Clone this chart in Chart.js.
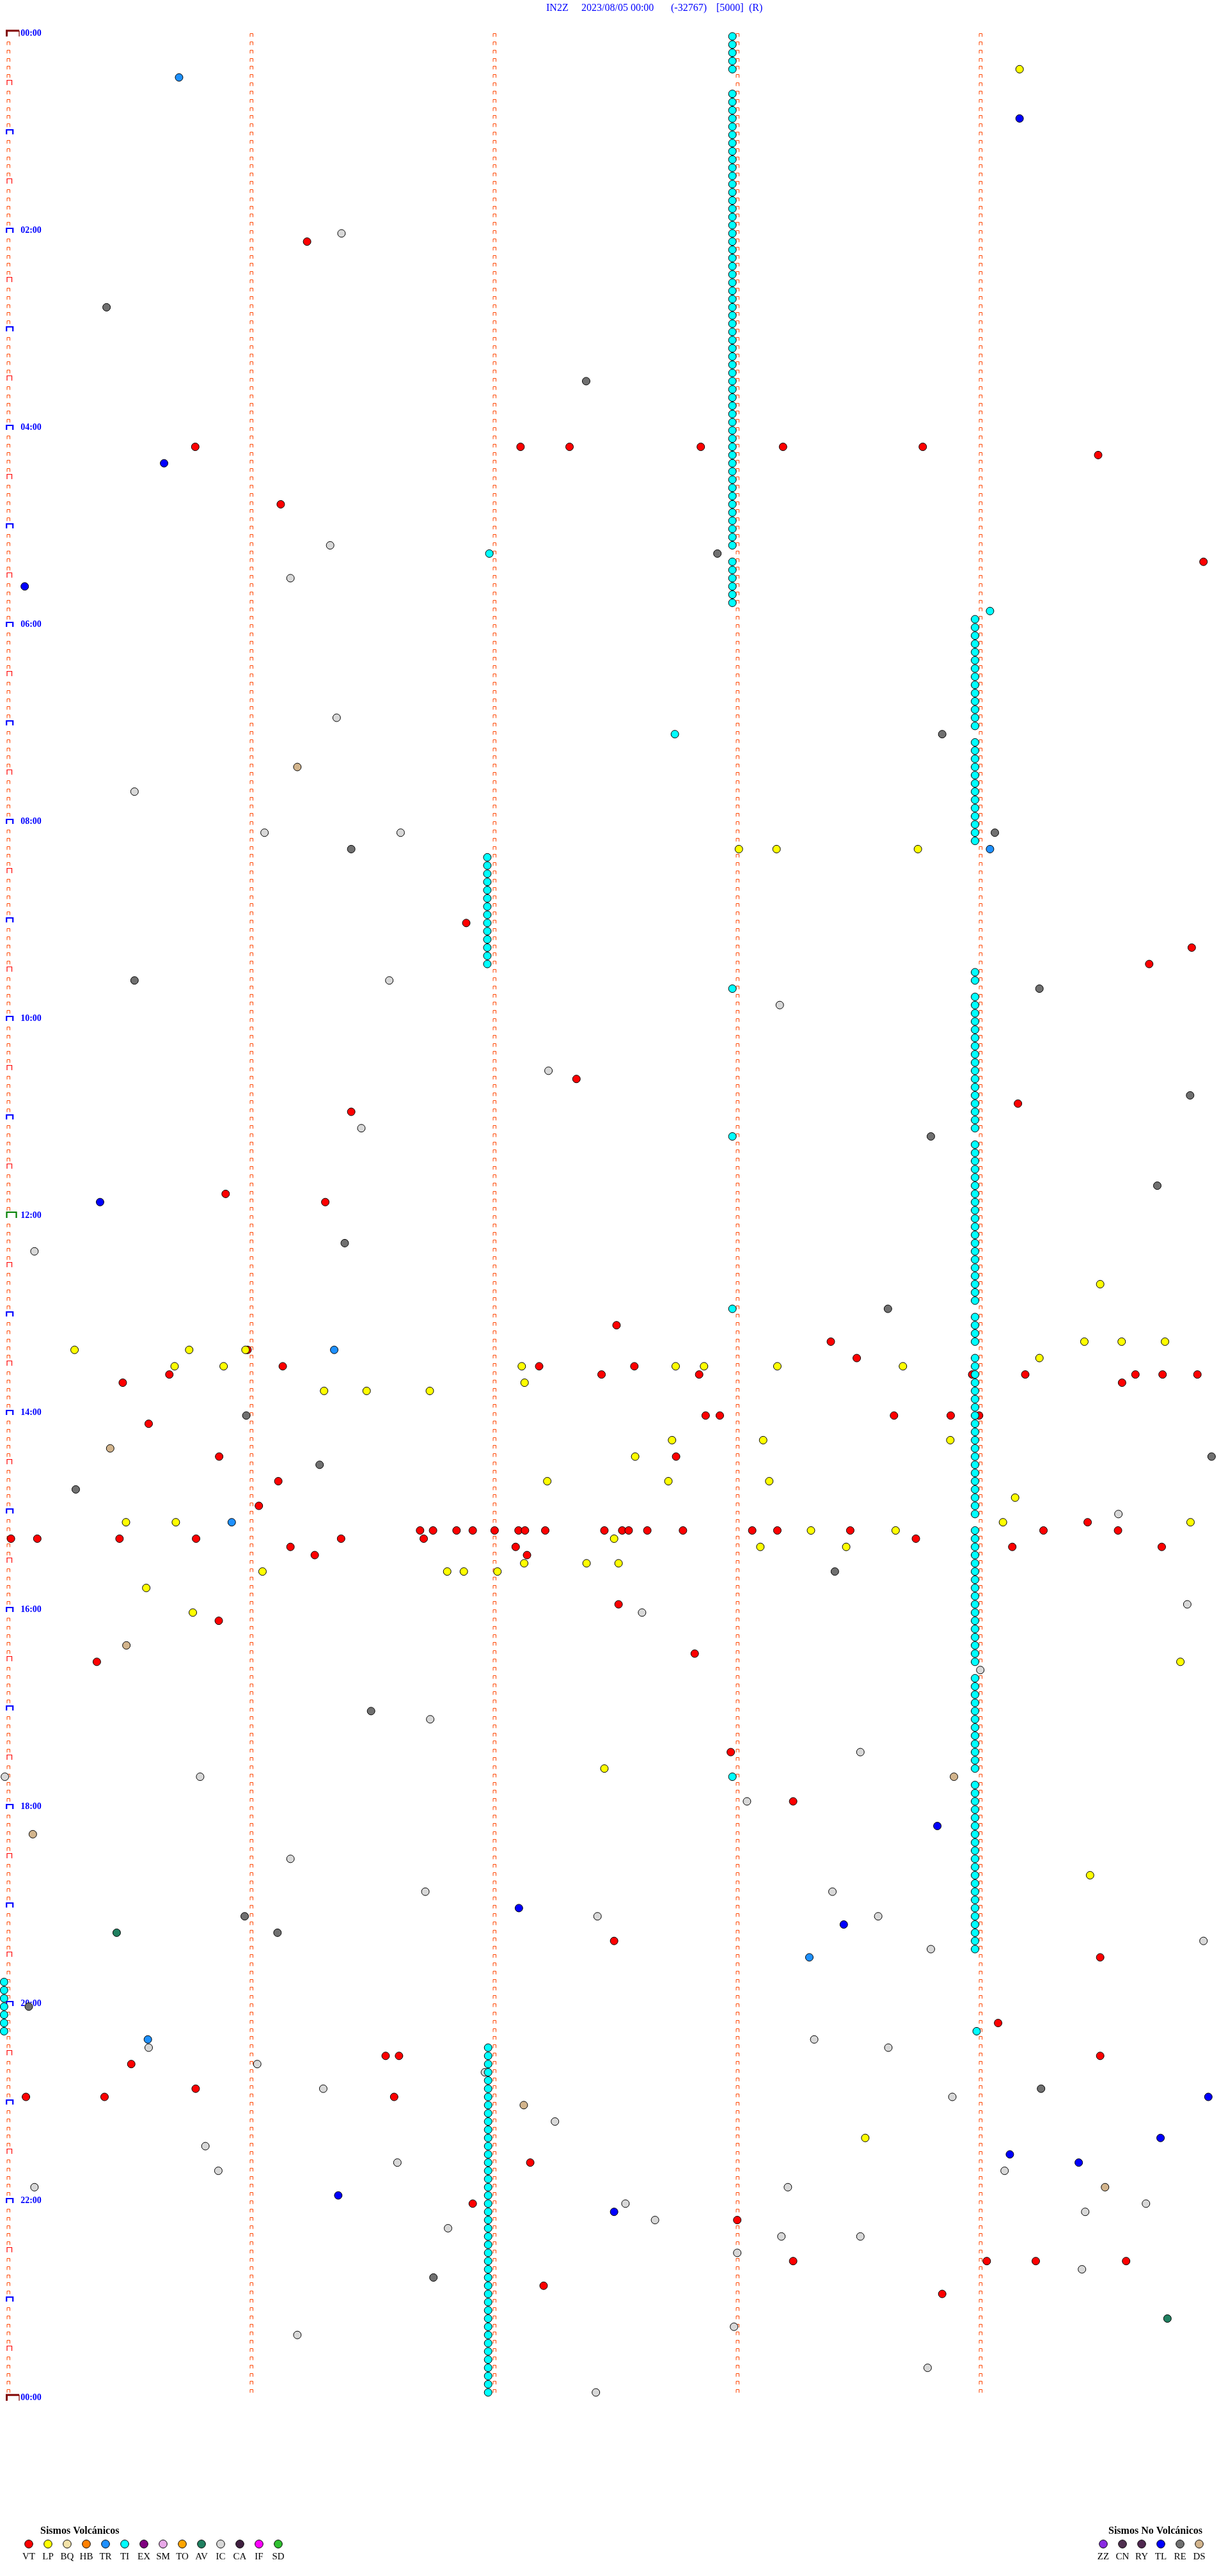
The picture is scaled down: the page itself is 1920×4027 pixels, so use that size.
<!DOCTYPE html>
<html><head><meta charset="utf-8">
<script src="https://cdn.jsdelivr.net/npm/chart.js@4/dist/chart.umd.min.js"></script>
<style>html,body{margin:0;padding:0;background:#fff;}canvas{display:block;}</style>
</head><body>
<canvas id="c" width="1920" height="4027" style="width:1920px;height:4027px"></canvas>
<script>
// x = seconds within the 5-minute line, y = minute of day of the line
const vtPts = [[73.8,126.9],[46.2,251.9],[126.5,251.9],[138.6,251.9],[171.0,251.9],[191.3,251.9],[225.8,251.9],[269.1,256.9],[67.3,286.9],[295.1,321.9],[113.1,541.9],[292.2,556.9],[281.7,566.9],[140.3,636.9],[249.3,651.9],[84.7,656.9],[53.7,706.9],[78.3,711.9],[150.2,786.9],[203.1,796.9],[209.5,806.9],[59.1,801.9],[67.8,811.9],[131.1,811.9],[154.6,811.9],[39.8,816.9],[146.5,816.9],[170.6,816.9],[238.0,816.9],[251.1,816.9],[278.3,816.9],[285.0,816.9],[293.6,816.9],[28.3,821.9],[275.0,821.9],[172.2,841.9],[175.7,841.9],[218.7,841.9],[232.7,841.9],[239.7,841.9],[34.7,846.9],[52.1,866.9],[164.9,866.9],[66.7,881.9],[61.9,896.9],[266.5,906.9],[101.7,911.9],[104.9,911.9],[110.7,911.9],[114.7,911.9],[120.1,911.9],[126.0,911.9],[127.6,911.9],[132.6,911.9],[147.2,911.9],[151.6,911.9],[153.2,911.9],[157.8,911.9],[166.6,911.9],[183.7,911.9],[189.9,911.9],[207.9,911.9],[255.6,911.9],[274.0,911.9],[0.7,916.9],[7.2,916.9],[27.5,916.9],[46.4,916.9],[82.2,916.9],[102.6,916.9],[224.1,916.9],[69.7,921.9],[125.3,921.9],[247.9,921.9],[284.8,921.9],[75.7,926.9],[128.1,926.9],[150.7,956.9],[52.0,966.9],[21.9,991.9],[169.5,986.9],[178.4,1046.9],[193.8,1076.9],[149.6,1161.9],[269.6,1171.9],[244.4,1211.9],[93.2,1231.9],[96.5,1231.9],[269.6,1231.9],[30.4,1236.9],[46.3,1251.9],[4.4,1256.9],[23.8,1256.9],[95.3,1256.9],[128.9,1296.9],[114.7,1321.9],[180.0,1331.9],[193.8,1356.9],[241.6,1356.9],[253.7,1356.9],[276.0,1356.9],[132.2,1371.9],[230.6,1376.9]];
const lpPts = [[249.7,21.9],[180.4,496.9],[189.7,496.9],[224.6,496.9],[269.6,761.9],[265.7,796.9],[274.9,796.9],[285.6,796.9],[16.4,801.9],[44.7,801.9],[58.6,801.9],[254.6,806.9],[41.1,811.9],[53.2,811.9],[126.8,811.9],[164.8,811.9],[171.8,811.9],[189.9,811.9],[220.9,811.9],[127.5,821.9],[78.0,826.9],[88.5,826.9],[104.1,826.9],[163.9,856.9],[186.4,856.9],[232.6,856.9],[154.8,866.9],[133.1,881.9],[163.0,881.9],[187.9,881.9],[248.6,891.9],[29.1,906.9],[41.4,906.9],[245.6,906.9],[291.9,906.9],[198.2,911.9],[219.1,911.9],[149.6,916.9],[185.7,921.9],[206.9,921.9],[127.4,931.9],[142.8,931.9],[150.7,931.9],[62.8,936.9],[108.4,936.9],[112.5,936.9],[120.8,936.9],[34.1,946.9],[45.6,961.9],[289.4,991.9],[147.2,1056.9],[267.1,1121.9],[211.6,1281.9]];
const trPts = [[42.2,26.9],[242.4,496.9],[80.5,801.9],[55.2,906.9],[197.8,1171.9],[34.5,1221.9]];
const tlPts = [[249.7,51.9],[38.5,261.9],[4.1,336.9],[22.7,711.9],[229.4,1091.9],[126.1,1141.9],[206.3,1151.9],[296.3,1256.9],[284.5,1281.9],[247.3,1291.9],[264.3,1296.9],[81.5,1316.9],[149.6,1326.9]];
const rePts = [[24.3,166.9],[142.7,211.9],[175.1,316.9],[230.6,426.9],[84.7,496.9],[243.6,486.9],[31.2,576.9],[254.6,581.9],[291.8,646.9],[227.8,671.9],[283.7,701.9],[83.1,736.9],[217.2,776.9],[58.8,841.9],[76.9,871.9],[16.7,886.9],[297.1,866.9],[204.1,936.9],[89.6,1021.9],[58.4,1146.9],[66.5,1156.9],[5.1,1201.9],[255.0,1251.9],[105.0,1366.9]];
const icPts = [[82.3,121.9],[79.5,311.9],[69.7,331.9],[81.1,416.9],[31.2,461.9],[63.3,486.9],[96.9,486.9],[94.1,576.9],[190.5,591.9],[133.4,631.9],[87.2,666.9],[6.5,741.9],[274.1,901.9],[156.5,961.9],[291.1,956.9],[240.0,996.9],[104.2,1026.9],[210.4,1046.9],[-0.8,1061.9],[47.4,1061.9],[182.4,1076.9],[69.7,1111.9],[103.0,1131.9],[203.5,1131.9],[145.5,1146.9],[214.8,1146.9],[227.8,1166.9],[295.1,1161.9],[34.7,1226.9],[199.0,1221.9],[217.3,1226.9],[61.5,1236.9],[117.7,1241.9],[77.8,1251.9],[233.1,1256.9],[135.0,1271.9],[48.7,1286.9],[51.9,1301.9],[246.0,1301.9],[96.1,1296.9],[6.5,1311.9],[152.4,1321.9],[192.5,1311.9],[280.9,1321.9],[265.9,1326.9],[159.7,1331.9],[108.6,1336.9],[190.9,1341.9],[210.4,1341.9],[180.0,1351.9],[265.1,1361.9],[71.4,1401.9],[179.2,1396.9],[227.0,1421.9],[145.1,1436.9]];
const dsPts = [[71.4,446.9],[25.2,861.9],[29.2,981.9],[233.5,1061.9],[6.1,1096.9],[127.3,1261.9],[270.8,1311.9]];
const avPts = [[26.8,1156.9],[286.2,1391.9]];
const tiSinglePts = [[118.8,316.9],[242.4,351.9],[164.6,426.9],[178.8,581.9],[178.8,671.9],[178.8,776.9],[178.8,1061.9],[239.1,1216.9]];
// tremor (TI) runs: one pick per line at a steady offset
const tiRunA_sec = 178.8;
const tiRunA_min = [1.9,6.9,11.9,16.9,21.9,36.9,41.9,46.9,51.9,56.9,61.9,66.9,71.9,76.9,81.9,86.9,91.9,96.9,101.9,106.9,111.9,116.9,121.9,126.9,131.9,136.9,141.9,146.9,151.9,156.9,161.9,166.9,171.9,176.9,181.9,186.9,191.9,196.9,201.9,206.9,211.9,216.9,221.9,226.9,231.9,236.9,241.9,246.9,251.9,256.9,261.9,266.9,271.9,276.9,281.9,286.9,291.9,296.9,301.9,306.9,311.9,321.9,326.9,331.9,336.9,341.9,346.9];
const tiRunB_sec = 238.7;
const tiRunB_min = [356.9,361.9,366.9,371.9,376.9,381.9,386.9,391.9,396.9,401.9,406.9,411.9,416.9,421.9,431.9,436.9,441.9,446.9,451.9,456.9,461.9,466.9,471.9,476.9,481.9,486.9,491.9,571.9,576.9,586.9,591.9,596.9,601.9,606.9,611.9,616.9,621.9,626.9,631.9,636.9,641.9,646.9,651.9,656.9,661.9,666.9,676.9,681.9,686.9,691.9,696.9,701.9,706.9,711.9,716.9,721.9,726.9,731.9,736.9,741.9,746.9,751.9,756.9,761.9,766.9,771.9,781.9,786.9,791.9,796.9,806.9,811.9,816.9,821.9,826.9,831.9,836.9,841.9,846.9,851.9,856.9,861.9,866.9,871.9,876.9,881.9,886.9,891.9,896.9,901.9,911.9,916.9,921.9,926.9,931.9,936.9,941.9,946.9,951.9,956.9,961.9,966.9,971.9,976.9,981.9,986.9,991.9,1001.9,1006.9,1011.9,1016.9,1021.9,1026.9,1031.9,1036.9,1041.9,1046.9,1051.9,1056.9,1066.9,1071.9,1076.9,1081.9,1086.9,1091.9,1096.9,1101.9,1106.9,1111.9,1116.9,1121.9,1126.9,1131.9,1136.9,1141.9,1146.9,1151.9,1156.9,1161.9,1166.9];
const tiRunC_sec = 118.3;
const tiRunC_min = [501.9,506.9,511.9,516.9,521.9,526.9,531.9,536.9,541.9,546.9,551.9,556.9,561.9,566.9];
const tiRunD_sec = -1.0;
const tiRunD_min = [1186.9,1191.9,1196.9,1201.9,1206.9,1211.9,1216.9];
const tiRunE_sec = 118.5;
const tiRunE_min = [1226.9,1231.9,1236.9,1241.9,1246.9,1251.9,1256.9,1261.9,1266.9,1271.9,1276.9,1281.9,1286.9,1291.9,1296.9,1301.9,1306.9,1311.9,1316.9,1321.9,1326.9,1331.9,1336.9,1341.9,1346.9,1351.9,1356.9,1361.9,1366.9,1371.9,1376.9,1381.9,1386.9,1391.9,1396.9,1401.9,1406.9,1411.9,1416.9,1421.9,1426.9,1431.9,1436.9];

const volcCodes = ['VT','LP','BQ','HB','TR','TI','EX','SM','TO','AV','IC','CA','IF','SD'];
const volcColors = ['#FF0000','#FFFF00','#F2E2A8','#FF8000','#1E90FF','#00FFFF','#800080','#E8A8E8','#FFA500','#208060','#D8D8D8','#402040','#FF00FF','#30C030'];
const nonVolcCodes = ['ZZ','CN','RY','TL','RE','DS'];
const nonVolcColors = ['#8A2BE2','#503050','#502850','#0000FF','#707070','#D2B48C'];
const titleParts = ['IN2Z','2023/08/05 00:00','(-32767)','[5000]','(R)'];
const lineMinutes = 5, linesPerDay = 288, lineSeconds = 300, tickSeconds = [0,60,120,180,240];

const colorOf = c => volcColors[volcCodes.indexOf(c)] || nonVolcColors[nonVolcCodes.indexOf(c)];
const toXY = arr => arr.map(p => ({x:p[0], y:p[1]}));
const run = (s, arr) => arr.map(m => ({x:s, y:m}));
const tiAll = [].concat(run(tiRunA_sec,tiRunA_min), run(tiRunB_sec,tiRunB_min), run(tiRunC_sec,tiRunC_min), run(tiRunD_sec,tiRunD_min), run(tiRunE_sec,tiRunE_min), toXY(tiSinglePts));

const mk = (code, data, order) => ({label:code, data, order, backgroundColor:colorOf(code), borderColor:'#000', borderWidth:1, pointRadius:6, pointHoverRadius:6, clip:false});

const SERIF = '"Liberation Serif","Times New Roman",serif';

function bracket(ctx, x0, x1, y0, y1, color, lw){
  ctx.strokeStyle = color; ctx.lineWidth = lw;
  ctx.beginPath(); ctx.moveTo(x0, y1); ctx.lineTo(x0, y0); ctx.lineTo(x1, y0); ctx.lineTo(x1, y1); ctx.stroke();
}

const deco = {
  id:'deco',
  beforeDatasetsDraw(chart){
    const ctx = chart.ctx, xs = chart.scales.x, ys = chart.scales.y;
    ctx.save();
    ctx.lineCap = 'butt';
    for (let r = 0; r <= linesPerDay; r++){
      const y = Math.round(ys.getPixelForValue(r*lineMinutes));
      tickSeconds.forEach((s, c) => {
        const cx = Math.round(xs.getPixelForValue(s));
        if (c === 0){
          if (r === 0 || r === linesPerDay){
            ctx.strokeStyle = '#800000';
            ctx.lineWidth = 3; ctx.beginPath(); ctx.moveTo(cx-2.5, y+5); ctx.lineTo(cx-2.5, y-4); ctx.lineTo(cx+17, y-4); ctx.stroke();
            ctx.lineWidth = 1.2; ctx.beginPath(); ctx.moveTo(cx+17, y-4); ctx.lineTo(cx+17, y+5); ctx.stroke();
          } else if (r === linesPerDay/2){
            bracket(ctx, cx-2.5, cx+12.5, y-5, y+4, '#008000', 2.2);
          } else if (r % 12 === 0){
            bracket(ctx, cx-2.8, cx+7.2, y-3, y+4, '#0000FF', 2.2);
          } else if (r % 6 === 0){
            bracket(ctx, cx-2, cx+5.5, y-3.5, y+4, '#FF0000', 1.2);
          } else {
            bracket(ctx, cx-2, cx+2.5, y+0.5, y+5.5, '#FF4500', 1);
          }
        } else if (r < linesPerDay){
          bracket(ctx, cx-2, cx+2.5, y+0.5, y+5.5, '#FF4500', 1);
        }
      });
      if (r % 24 === 0){
        const cx0 = xs.getPixelForValue(0);
        const lbl = String((r*lineMinutes/60) % 24).padStart(2,'0') + ':00';
        ctx.fillStyle = '#0000FF'; ctx.font = 'bold 14px ' + SERIF;
        ctx.textBaseline = 'middle'; ctx.textAlign = 'left';
        ctx.fillText(lbl, cx0 + 19.5, y + 0.5);
      }
    }
    ctx.restore();
  },
  afterDraw(chart){
    const ctx = chart.ctx;
    ctx.save();
    // title
    ctx.fillStyle = '#0000FF'; ctx.font = '16px ' + SERIF; ctx.textBaseline = 'middle'; ctx.textAlign = 'left';
    const tx = [854, 909, 1049, 1120, 1171];
    titleParts.forEach((t,i) => ctx.fillText(t, tx[i], 13));
    // legends
    const drawLegend = (title, titleX, codes, colors, x0) => {
      ctx.fillStyle = '#000'; ctx.font = 'bold 16px ' + SERIF; ctx.textAlign = 'left'; ctx.textBaseline = 'middle';
      ctx.fillText(title, titleX, 3957);
      codes.forEach((c,i) => {
        const x = x0 + 30*i;
        ctx.beginPath(); ctx.arc(x, 3977, 6.3, 0, Math.PI*2);
        ctx.fillStyle = colors[i]; ctx.fill(); ctx.lineWidth = 1; ctx.strokeStyle = '#000'; ctx.stroke();
        ctx.fillStyle = '#000'; ctx.font = '15px ' + SERIF; ctx.textAlign = 'center';
        ctx.fillText(c, x, 3997);
      });
    };
    drawLegend('Sismos Volcánicos', 63, volcCodes, volcColors, 45);
    drawLegend('Sismos No Volcánicos', 1733, nonVolcCodes, nonVolcColors, 1725);
    ctx.restore();
  }
};

new Chart(document.getElementById('c'), {
  type:'scatter',
  data:{ datasets:[
    mk('TI', tiAll, 0),
    mk('LP', toXY(lpPts), 1),
    mk('TR', toXY(trPts), 2),
    mk('TL', toXY(tlPts), 3),
    mk('RE', toXY(rePts), 4),
    mk('IC', toXY(icPts), 5),
    mk('DS', toXY(dsPts), 6),
    mk('AV', toXY(avPts), 7),
    mk('VT', toXY(vtPts), 8)
  ]},
  options:{
    responsive:false, animation:false, devicePixelRatio:1, events:[],
    layout:{ padding:{ left:12.7, right:7.3, top:52, bottom:279 } },
    scales:{
      x:{ type:'linear', min:0, max:lineSeconds, display:false },
      y:{ type:'linear', min:0, max:linesPerDay*lineMinutes, reverse:true, display:false }
    },
    plugins:{ legend:{display:false}, tooltip:{enabled:false}, title:{display:false} }
  },
  plugins:[deco]
});
</script>
</body></html>
